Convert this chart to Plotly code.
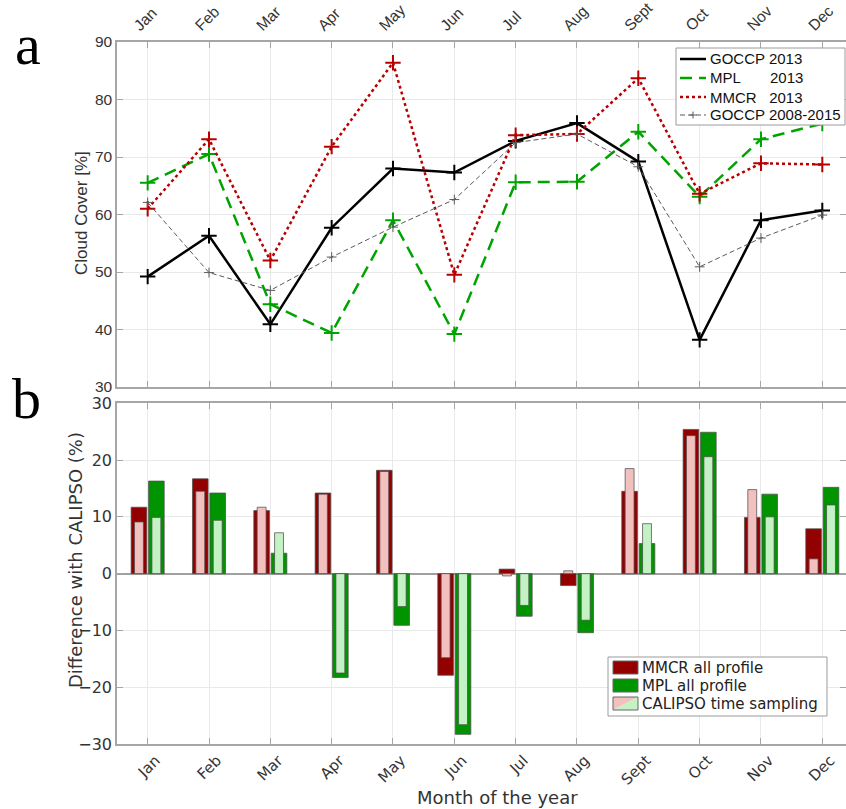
import plotly.graph_objects as go

W, H = 846, 809

months = ["Jan", "Feb", "Mar", "Apr", "May", "Jun", "Jul", "Aug", "Sept", "Oct", "Nov", "Dec"]
month_num = list(range(1, 13))

# Panel a: cloud cover [%]
goccp_2013 = [49.2, 56.3, 40.9, 57.7, 68.0, 67.3, 72.8, 75.9, 69.2, 38.2, 59.0, 60.7]
mpl_2013 = [65.5, 70.5, 44.4, 39.4, 59.0, 39.2, 65.6, 65.7, 74.4, 63.1, 73.1, 75.8]
mmcr_2013 = [61.0, 73.1, 52.0, 71.8, 86.4, 49.5, 73.8, 74.0, 83.7, 63.6, 68.9, 68.7]
goccp_0815 = [62.1, 49.9, 46.8, 52.6, 57.8, 62.6, 72.5, 74.0, 68.3, 50.9, 55.9, 59.9]

# Panel b: difference with CALIPSO (%)
mmcr_all = [11.7, 16.7, 11.1, 14.2, 18.2, -17.9, 0.8, -2.1, 14.5, 25.4, 9.9, 7.9]
mmcr_cal = [9.1, 14.5, 11.7, 14.0, 18.0, -14.8, -0.4, 0.5, 18.5, 24.3, 14.8, 2.6]
mpl_all = [16.3, 14.2, 3.6, -18.3, -9.1, -28.3, -7.5, -10.4, 5.3, 24.9, 14.0, 15.2]
mpl_cal = [9.9, 9.4, 7.2, -17.5, -5.8, -26.6, -5.6, -8.2, 8.8, 20.6, 10.0, 12.1]

top_names = ["GOCCP 2013", "MPL\u00a0\u00a0\u00a0\u00a0\u00a0\u00a0\u00a02013",
             "MMCR\u00a0\u00a0\u00a02013", "GOCCP 2008-2015"]
bar_names = ["MMCR all profile", "MPL all profile", "CALIPSO time sampling"]

def px_x(p):
    return p / W

def px_y(p):
    return 1 - p / H

SANS = "Liberation Sans, Arial, sans-serif"
DJV = "DejaVu Sans, Verdana, sans-serif"
GRID = "#e9e9e9"
AXC = "#a6a6a6"

BLACK, GREEN, RED, GRAY = "#000000", "#00A300", "#B80000", "#5a5a5a"
DKRED, DKGREEN, PINK, LTGREEN = "#930000", "#009400", "#F3C0C0", "#C4F2C4"
GDASH = "12px,7px"
GRDASH = "5px,3px"

fig = go.Figure()

# ---- top panel lines
fig.add_trace(go.Scatter(x=month_num, y=goccp_2013, mode="lines+markers", name=top_names[0],
                         line=dict(color=BLACK, width=2.5),
                         marker=dict(symbol="cross-thin-open", size=11, line=dict(width=2, color=BLACK)),
                         xaxis="x", yaxis="y"))
fig.add_trace(go.Scatter(x=month_num, y=mpl_2013, mode="lines+markers", name=top_names[1],
                         line=dict(color=GREEN, width=2.5, dash=GDASH),
                         marker=dict(symbol="cross-thin-open", size=11, line=dict(width=2, color=GREEN)),
                         xaxis="x", yaxis="y"))
fig.add_trace(go.Scatter(x=month_num, y=mmcr_2013, mode="lines+markers", name=top_names[2],
                         line=dict(color=RED, width=2.5, dash="dot"),
                         marker=dict(symbol="cross-thin-open", size=11, line=dict(width=2, color=RED)),
                         xaxis="x", yaxis="y"))
fig.add_trace(go.Scatter(x=month_num, y=goccp_0815, mode="lines+markers", name=top_names[3],
                         line=dict(color=GRAY, width=1, dash=GRDASH),
                         marker=dict(symbol="cross-thin-open", size=7, line=dict(width=1, color=GRAY)),
                         xaxis="x", yaxis="y"))

# ---- bottom panel bars
OUT_W = 0.255
IN_W = 0.145
OFF = 0.142
EDGE = dict(color="rgba(80,80,80,0.75)", width=1)

fig.add_trace(go.Bar(x=month_num, y=mmcr_all, width=OUT_W, offset=-OFF - OUT_W / 2, name=bar_names[0],
                     marker=dict(color=DKRED, line=EDGE), xaxis="x2", yaxis="y2"))
fig.add_trace(go.Bar(x=month_num, y=mpl_all, width=OUT_W, offset=OFF - OUT_W / 2, name=bar_names[1],
                     marker=dict(color=DKGREEN, line=EDGE), xaxis="x2", yaxis="y2"))
fig.add_trace(go.Bar(x=month_num, y=mmcr_cal, width=IN_W, offset=-OFF - IN_W / 2, name=bar_names[2],
                     marker=dict(color=PINK, line=EDGE), xaxis="x2", yaxis="y2"))
fig.add_trace(go.Bar(x=month_num, y=mpl_cal, width=IN_W, offset=OFF - IN_W / 2, name=bar_names[2],
                     marker=dict(color=LTGREEN, line=EDGE), xaxis="x2", yaxis="y2"))

x_dom = [px_x(117), 1.0]
x_rng = [0.5, 0.5 + (W - 117) / 61.33]

common_x = dict(range=x_rng, domain=x_dom, tickvals=month_num, ticktext=months, tickangle=-45,
                showgrid=True, gridcolor=GRID, gridwidth=1, showline=True, linecolor=AXC, linewidth=1.5,
                mirror="ticks", ticks="inside", ticklen=6, tickcolor=AXC, zeroline=False)

fig.update_layout(
    width=W, height=H,
    margin=dict(l=0, r=0, t=0, b=0, autoexpand=False),
    paper_bgcolor="white", plot_bgcolor="white",
    barmode="overlay",
    showlegend=False,
    xaxis=dict(**common_x, anchor="y", side="top", ticklabelshift=-13,
               tickfont=dict(family=SANS, size=15.5, color="#333333")),
    yaxis=dict(domain=[px_y(387), px_y(42)], range=[30, 90], dtick=10, anchor="x",
               showgrid=True, gridcolor=GRID, showline=True, linecolor=AXC, linewidth=1.5,
               mirror="ticks", ticks="inside", ticklen=6, tickcolor=AXC, zeroline=False,
               tickfont=dict(family=SANS, size=15.5, color="#333333")),
    xaxis2=dict(**common_x, anchor="y2", side="bottom", ticklabelshift=8,
                tickfont=dict(family=DJV, size=15, color="#333333")),
    yaxis2=dict(domain=[px_y(744), px_y(403.3)], range=[-30, 30], dtick=10, anchor="x2",
                showgrid=True, gridcolor=GRID, showline=True, linecolor=AXC, linewidth=1.5,
                mirror="ticks", ticks="inside", ticklen=6, tickcolor=AXC,
                zeroline=True, zerolinecolor="#a0a0a0", zerolinewidth=1.5,
                tickfont=dict(family=DJV, size=16, color="#333333")),
)

annotations = [
    dict(text="a", x=px_x(28), y=px_y(44), xanchor="center", yanchor="middle",
         font=dict(family="Liberation Serif, Times New Roman, serif", size=58, color="black")),
    dict(text="b", x=px_x(27), y=px_y(398), xanchor="center", yanchor="middle",
         font=dict(family="Liberation Serif, Times New Roman, serif", size=58, color="black")),
    dict(text="Cloud Cover [%]", x=px_x(81), y=px_y(213), textangle=-90, xanchor="center", yanchor="middle",
         font=dict(family=SANS, size=17, color="#333333")),
    dict(text="Difference with CALIPSO (%)", x=px_x(75), y=px_y(560), textangle=-90,
         xanchor="center", yanchor="middle", font=dict(family=DJV, size=18, color="#333333")),
    dict(text="Month of the year", x=px_x(497), y=px_y(797), xanchor="center", yanchor="middle",
         font=dict(family=DJV, size=18, color="#333333")),
]
shapes = []

# manual legend for panel a
shapes.append(dict(type="rect", x0=px_x(676), x1=px_x(845), y0=px_y(125), y1=px_y(48),
                   fillcolor="white", line=dict(color="#9a9a9a", width=1), layer="above"))
top_rows = [59, 78, 97, 115]
top_styles = [(BLACK, 2.5, "solid"), (GREEN, 2.5, GDASH), (RED, 2.5, "dot"), (GRAY, 1, GRDASH)]
for name, yy, (c, w, d) in zip(top_names, top_rows, top_styles):
    shapes.append(dict(type="line", x0=px_x(680), x1=px_x(706), y0=px_y(yy), y1=px_y(yy),
                       line=dict(color=c, width=w, dash=d), layer="above"))
    annotations.append(dict(text=name, x=px_x(708), y=px_y(yy), xanchor="left", yanchor="middle",
                            font=dict(family=SANS, size=15, color="#111111")))
# small cross on the gray legend sample
cx, cy = 693, top_rows[3]
shapes.append(dict(type="line", x0=px_x(cx - 3.5), x1=px_x(cx + 3.5), y0=px_y(cy), y1=px_y(cy),
                   line=dict(color=GRAY, width=1), layer="above"))
shapes.append(dict(type="line", x0=px_x(cx), x1=px_x(cx), y0=px_y(cy - 3.5), y1=px_y(cy + 3.5),
                   line=dict(color=GRAY, width=1), layer="above"))

# manual legend for panel b
rows = [(661, 674), (679, 692), (697, 710)]
for lab, (t, b) in zip(bar_names, rows):
    annotations.append(dict(text=lab, x=px_x(640), y=px_y((t + b) / 2), xanchor="left", yanchor="middle",
                            font=dict(family=DJV, size=15, color="#222222")))
shapes += [
    dict(type="rect", x0=px_x(608), x1=px_x(827), y0=px_y(716), y1=px_y(657),
         fillcolor="white", line=dict(color="#9a9a9a", width=1), layer="above"),
    dict(type="rect", x0=px_x(613), x1=px_x(638), y0=px_y(674), y1=px_y(661),
         fillcolor=DKRED, line=dict(color="#666666", width=1), layer="above"),
    dict(type="rect", x0=px_x(613), x1=px_x(638), y0=px_y(692), y1=px_y(679),
         fillcolor=DKGREEN, line=dict(color="#666666", width=1), layer="above"),
]
x0, x1, y0, y1 = px_x(613), px_x(638), px_y(710), px_y(697)
shapes.append(dict(type="path", path=f"M {x0},{y0} L {x0},{y1} L {x1},{y1} Z",
                   fillcolor=PINK, line=dict(width=0), layer="above"))
shapes.append(dict(type="path", path=f"M {x0},{y0} L {x1},{y1} L {x1},{y0} Z",
                   fillcolor=LTGREEN, line=dict(width=0), layer="above"))
shapes.append(dict(type="rect", x0=x0, x1=x1, y0=y0, y1=y1, fillcolor="rgba(0,0,0,0)",
                   line=dict(color="#666666", width=1), layer="above"))

for a in annotations:
    a.update(xref="paper", yref="paper", showarrow=False)
for s in shapes:
    s.update(xref="paper", yref="paper")
fig.update_layout(annotations=annotations, shapes=shapes)

fig.write_html("out.html", config={"displayModeBar": False},
               post_script="document.body.style.margin='0px';document.body.style.overflow='hidden';")
